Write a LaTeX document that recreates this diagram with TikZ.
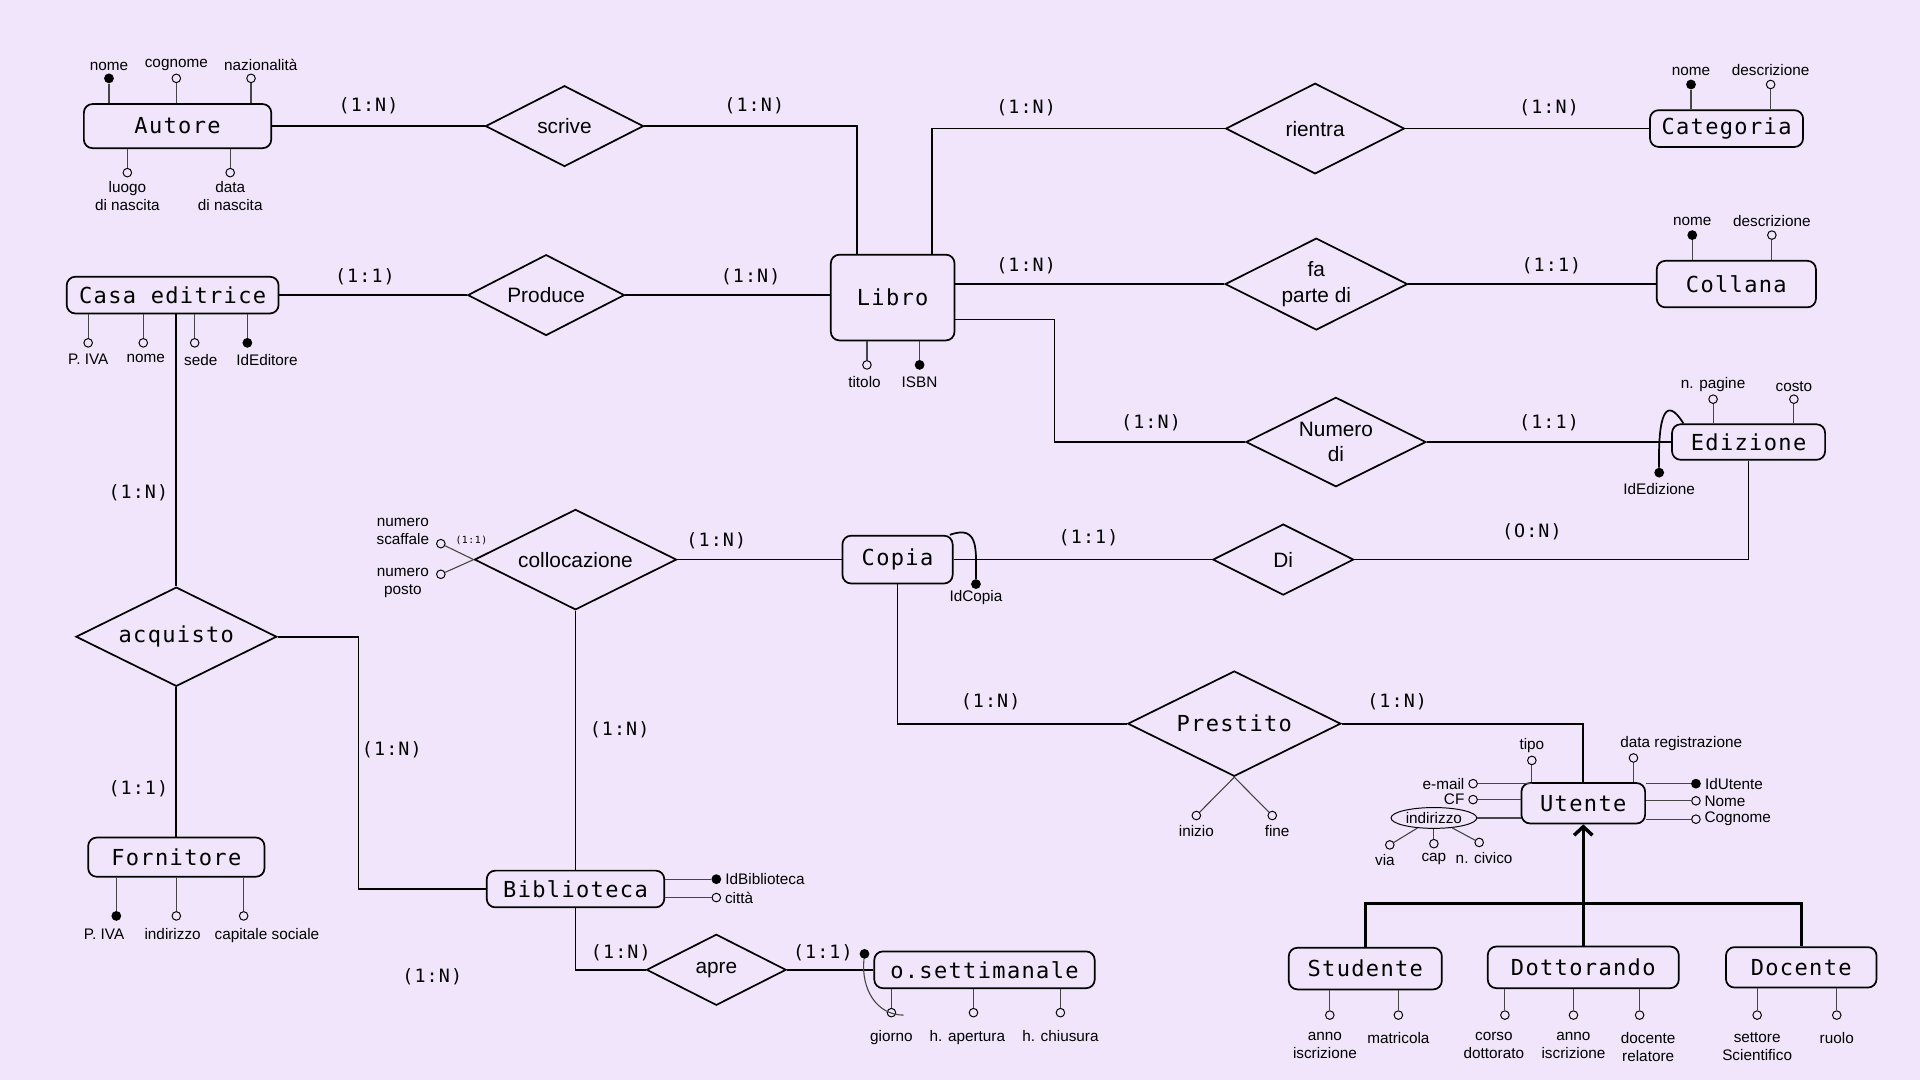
\documentclass[tikz,border=0pt]{standalone}
\usepackage{fontspec}
\setmainfont{Liberation Sans}
\newfontfamily\monofam{DejaVu Sans Mono}[LetterSpace=6]
\usetikzlibrary{shapes.geometric,positioning,arrows.meta}
\definecolor{bg}{RGB}{240,229,250}
\definecolor{attrgray}{RGB}{70,70,70}
\newcommand\entfont{\monofam\fontsize{18}{20}\selectfont}
\newcommand\cardfont{\monofam\fontsize{15}{17}\selectfont}
\newcommand\relfont{\fontsize{17}{21}\selectfont}
\newcommand\attfont{\fontsize{12.5}{14.5}\selectfont}
\tikzset{
  entity/.style={draw, rounded corners=7pt, line width=1.4pt, fill=bg, font=\entfont, inner sep=2pt},
  relation/.style 2 args={draw, diamond, aspect=2, inner sep=0pt, line width=1.4pt, fill=bg,
    font=\relfont, align=center, minimum width=#1, minimum height=#2},
  attr/.style={circle, draw, fill=bg, inner sep=0pt, minimum size=7, line width=0.8pt},
  keyattr/.style={circle, fill=black, inner sep=0pt, minimum size=8},
  attrlabel/.style={font=\attfont, inner sep=1pt, align=center},
  card/.style={font=\cardfont, inner sep=1pt},
  link/.style={line width=1.4pt},
  attrline/.style={line width=0.9pt, draw=attrgray},
  isa/.style={line width=2.8pt}
}
\begin{document}
\begin{tikzpicture}[x=1pt, y=-1pt]
\fill[bg] (0,0) rectangle (1568,882);
\useasboundingbox (0,0) rectangle (1568,882);

% entita'
\node[entity, minimum width=153, minimum height=36] (autore) at (145,103) {Autore};
\node[entity, minimum width=173, minimum height=30] (casa) at (141,241) {Casa editrice};
\node[entity, minimum width=101, minimum height=70] (libro) at (729,243) {Libro};
\node[entity, minimum width=125, minimum height=30] (categoria) at (1410,105) {Categoria};
\node[entity, minimum width=130, minimum height=38] (collana) at (1418,232) {Collana};
\node[entity, minimum width=125, minimum height=29] (edizione) at (1428,361) {Edizione};
\node[entity, minimum width=90, minimum height=39] (copia) at (733,457) {Copia};
\node[entity, minimum width=144, minimum height=32] (fornitore) at (144,700) {Fornitore};
\node[entity, minimum width=145, minimum height=30] (biblioteca) at (470,726) {Biblioteca};
\node[entity, minimum width=180, minimum height=30] (settimanale) at (804,792) {o.settimanale};
\node[entity, minimum width=101, minimum height=33] (utente) at (1293,656) {Utente};
\node[entity, minimum width=125, minimum height=34] (studente) at (1115,791) {Studente};
\node[entity, minimum width=156, minimum height=34] (dottorando) at (1293,790) {Dottorando};
\node[entity, minimum width=123, minimum height=33] (docente) at (1471,790) {Docente};

% relazioni
\node[relation={129}{66}] (scrive) at (461,103) {scrive};
\node[relation={128}{66}] (produce) at (446,241) {Produce};
\node[relation={146}{74}] (rientra) at (1074,105) {rientra};
\node[relation={149}{75}] (parte) at (1075,232) {fa\\parte di};
\node[relation={147}{73}] (numero) at (1091,361) {Numero\\di};
\node[relation={165}{82}] (collocazione) at (470,457) {collocazione};
\node[relation={115}{58}] (di) at (1048,457) {Di};
\node[relation={164}{81}, font=\entfont] (acquisto) at (144,520) {acquisto};
\node[relation={174}{86}, font=\entfont] (prestito) at (1008,591) {Prestito};
\node[relation={114}{58}] (apre) at (585,792) {apre};

% collegamenti
\draw[link] (autore) -- (scrive);
\draw[link] (scrive.east) -| ([xshift=-29pt]libro.north);
\draw[link] ([xshift=32pt]libro.north) |- (rientra.west);
\draw[link] (rientra) -- (categoria);
\draw[link] (parte -| libro.east) -- (parte);
\draw[link] (parte) -- (collana);
\draw[link] ([yshift=-18pt]libro.east) -- ++(81,0) |- (numero.west);
\draw[link] (numero) -- (edizione);
\draw[link] (casa) -- (produce);
\draw[link] (produce) -- (produce -| libro.west);
\draw[link] (acquisto |- casa.south) -- (acquisto);
\draw[link] (acquisto) -- (fornitore);
\draw[link] (acquisto.east) -- ++(66,0) |- (biblioteca.west);
\draw[link] (collocazione) -- (copia);
\draw[link] (collocazione) -- (biblioteca);
\draw[link] (copia) -- (di);
\draw[link] (di.east) -| (edizione.south);
\draw[link] (copia.south) |- (prestito.west);
\draw[link] (prestito.east) -| (utente.north);
\draw[link] (biblioteca.south) |- (apre.west);
\draw[link] (apre) -- (settimanale);

% gerarchia utente
\coordinate (isaH) at (1293,738);
\draw[isa] (studente.north) -- (studente.north |- isaH) -- (docente.north |- isaH) -- (docente.north);
\draw[isa] (dottorando.north) -- (isaH);
\draw[isa, -{Straight Barb[length=7pt,width=15pt]}] (isaH) -- (utente.south);

% cardinalita'
\foreach \n/\x/\y/\t in {1/301/86/(1:N), 2/616/86/(1:N), 3/838/88/(1:N), 4/1265/88/(1:N),
  5/298/226/(1:1), 6/613/226/(1:N), 7/838/217/(1:N), 8/1267/217/(1:1), 9/940/345/(1:N),
  10/1265/345/(1:1), 11/113/402/(1:N), 12/113/644/(1:1), 13/320/612/(1:N), 14/585/442/(1:N),
  15/506/596/(1:N), 16/889/439/(1:1), 17/1251/434/(O:N), 18/809/573/(1:N), 19/1141/573/(1:N),
  20/507/778/(1:N), 21/672/778/(1:1), 22/353/798/(1:N)}
  \node[card] (card\n) at (\x,\y) {\t};

% attributi autore
\foreach \n/\x/\s/\t/\d in {aNome/89/keyattr/nome/0, aCogn/144/attr/cognome/0, aNaz/205/attr/nazionalità/8}{
  \node[\s] (\n) at (\x,64) {};
  \node[attrlabel, above=1pt of \n, xshift=\d] (\n-t) {\t};
  \draw[attrline] (\n) -- (\n |- autore.north);
}
\foreach \n/\x/\t in {aLuogo/104/{luogo\\di nascita}, aData/188/{data\\di nascita}}{
  \node[attr] (\n) at (\x,141) {};
  \node[attrlabel, below=2pt of \n] (\n-t) {\t};
  \draw[attrline] (\n) -- (\n |- autore.south);
}

% attributi casa editrice
\foreach \n/\x/\s/\t/\d in {cIva/72/attr/P. IVA/0, cNome/117/attr/nome/2, cSede/159/attr/sede/5, cId/202/keyattr/IdEditore/16}{
  \node[\s] (\n) at (\x,280) {};
  \node[attrlabel, below=4pt of \n, xshift=\d] (\n-t) {\t};
  \draw[attrline] (\n) -- (\n |- casa.south);
}

% attributi libro
\foreach \n/\x/\s/\t/\d in {lTit/708/attr/titolo/-2, lIsbn/751/keyattr/ISBN/0}{
  \node[\s] (\n) at (\x,298) {};
  \node[attrlabel, below=4pt of \n, xshift=\d] (\n-t) {\t};
  \draw[attrline] (\n) -- (\n |- libro.south);
}

% attributi categoria e collana
\foreach \n/\x/\s/\t in {kNome/1381/keyattr/nome, kDesc/1446/attr/descrizione}{
  \node[\s] (\n) at (\x,69) {};
  \node[attrlabel, above=2pt of \n] (\n-t) {\t};
  \draw[attrline] (\n) -- (\n |- categoria.north);
}
\foreach \n/\x/\s/\t in {oNome/1382/keyattr/nome, oDesc/1447/attr/descrizione}{
  \node[\s] (\n) at (\x,192) {};
  \node[attrlabel, above=2pt of \n] (\n-t) {\t};
  \draw[attrline] (\n) -- (\n |- collana.north);
}

% attributi edizione
\foreach \n/\x/\t in {ePag/1399/n. pagine, eCos/1465/costo}{
  \node[attr] (\n) at (\x,326) {};
  \node[attrlabel, above=1pt of \n] (\n-t) {\t};
  \draw[attrline] (\n) -- (\n |- edizione.north);
}
\node[keyattr] (eId) at (1355,386) {};
\node[attrlabel, below=3pt of eId] (eId-t) {IdEdizione};
\draw[link] ([xshift=10pt]edizione.north west) .. controls (1360,322) and (1354,340) .. (eId);

% identificatore copia
\node[keyattr] (pId) at (797,477) {};
\node[attrlabel, below=0pt of pId] (pId-t) {IdCopia};
\draw[link] ([xshift=-3pt]copia.north east) .. controls (800,428) and (797,450) .. (pId);

% attributi collocazione
\node[attr] (nSca) at (360,444) {};
\node[attr] (nPos) at (360,469) {};
\node[attrlabel] (nSca-t) at (329,434) {numero\\scaffale};
\node[attrlabel] (nPos-t) at (329,476) {numero\\posto};
\draw[attrline] (nSca) -- (collocazione.west);
\draw[attrline] (nPos) -- (collocazione.west);
\node[font=\monofam\fontsize{8}{9}\selectfont, inner sep=1pt] (colCard) at (385,441) {(1:1)};

% attributi fornitore
\foreach \n/\x/\s/\t/\d in {fIva/95/keyattr/P. IVA/-10, fInd/144/attr/indirizzo/-3, fCap/199/attr/capitale sociale/19}{
  \node[\s] (\n) at (\x,748) {};
  \node[attrlabel, below=5pt of \n, xshift=\d] (\n-t) {\t};
  \draw[attrline] (\n) -- (\n |- fornitore.south);
}

% attributi biblioteca
\foreach \n/\y/\s/\t in {bId/718/keyattr/IdBiblioteca, bCit/733/attr/città}{
  \node[\s] (\n) at (585,\y) {};
  \node[attrlabel, right=2pt of \n] (\n-t) {\t};
  \draw[attrline] (\n) -- (\n -| biblioteca.east);
}

% attributi orario settimanale
\foreach \n/\x/\t/\d in {sGio/728/giorno/0, sApe/795/h. apertura/-5, sChi/866/h. chiusura/0}{
  \node[attr] (\n) at (\x,827) {};
  \node[attrlabel, below=9pt of \n, xshift=\d] (\n-t) {\t};
  \draw[attrline] (\n) -- (\n |- settimanale.south);
}
\node[keyattr] (sKey) at (706,779) {};
\coordinate (sKeyEnd) at (738,829);
\draw[attrline] (sKey) .. controls (703,808) and (716,829) .. (sKeyEnd);

% attributi prestito
\foreach \n/\x/\t/\d in {pIni/977/inizio/0, pFin/1039/fine/4}{
  \node[attr] (\n) at (\x,666) {};
  \node[attrlabel, below=3pt of \n, xshift=\d] (\n-t) {\t};
  \draw[attrline] (prestito.south) -- (\n);
}

% attributi utente
\node[attr] (uTipo) at (1251,621) {};
\node[attrlabel, above=1pt of uTipo] (uTipo-t) {tipo};
\draw[attrline] (uTipo) -- (uTipo |- utente.north);
\node[attr] (uData) at (1334,619) {};
\node[attrlabel, above=1pt of uData, xshift=39] (uData-t) {data registrazione};
\draw[attrline] (uData) -- (uData |- utente.north);
\node[attr] (uMail) at (1203,640) {};
\node[attrlabel, left=2pt of uMail] (uMail-t) {e-mail};
\draw[attrline] (uMail) -- (uMail -| uTipo);
\node[attr] (uCF) at (1203,653) {};
\node[attrlabel, left=2pt of uCF] (uCF-t) {CF};
\draw[attrline] (uCF) -- (uCF -| utente.west);
\node[draw, ellipse, line width=0.8pt, fill=bg, font=\attfont, inner sep=0pt, minimum width=70, minimum height=17] (uInd) at (1171,668) {indirizzo};
\draw[attrline] (uInd) -- (uInd -| utente.west);
\foreach \n/\x/\y/\t/\d in {uVia/1135/690/via/-4, uCap/1171/689/cap/0, uCiv/1208/688/n. civico/4}{
  \node[attr] (\n) at (\x,\y) {};
  \node[attrlabel, below=3pt of \n, xshift=\d] (\n-t) {\t};
  \draw[attrline] (uInd) -- (\n);
}
\foreach \n/\y/\s/\t in {uId/640/keyattr/IdUtente, uNome/654/attr/Nome, uCogn/669/attr/Cognome}{
  \node[\s] (\n) at (1385,\y) {};
  \node[attrlabel, right=2pt of \n] (\n-t) {\t};
  \draw[attrline] (\n) -- (\n -| utente.east);
}

% attributi studente, dottorando, docente
\foreach \n/\x/\t/\d in {stAnno/1086/{anno\\iscrizione}/-4, stMat/1142/matricola/0}{
  \node[attr] (\n) at (\x,829) {};
  \node[attrlabel, below=9pt of \n, xshift=\d] (\n-t) {\t};
  \draw[attrline] (\n) -- (\n |- studente.south);
}
\foreach \n/\x/\t/\d in {dCor/1229/{corso\\dottorato}/-9, dAnno/1285/{anno\\iscrizione}/0, dDoc/1339/{docente\\relatore}/7}{
  \node[attr] (\n) at (\x,829) {};
  \node[attrlabel, below=9pt of \n, xshift=\d] (\n-t) {\t};
  \draw[attrline] (\n) -- (\n |- dottorando.south);
}
\foreach \n/\x/\t in {doSet/1435/{settore\\Scientifico}, doRuo/1500/ruolo}{
  \node[attr] (\n) at (\x,829) {};
  \node[attrlabel, below=9pt of \n] (\n-t) {\t};
  \draw[attrline] (\n) -- (\n |- docente.south);
}
\end{tikzpicture}
\end{document}
